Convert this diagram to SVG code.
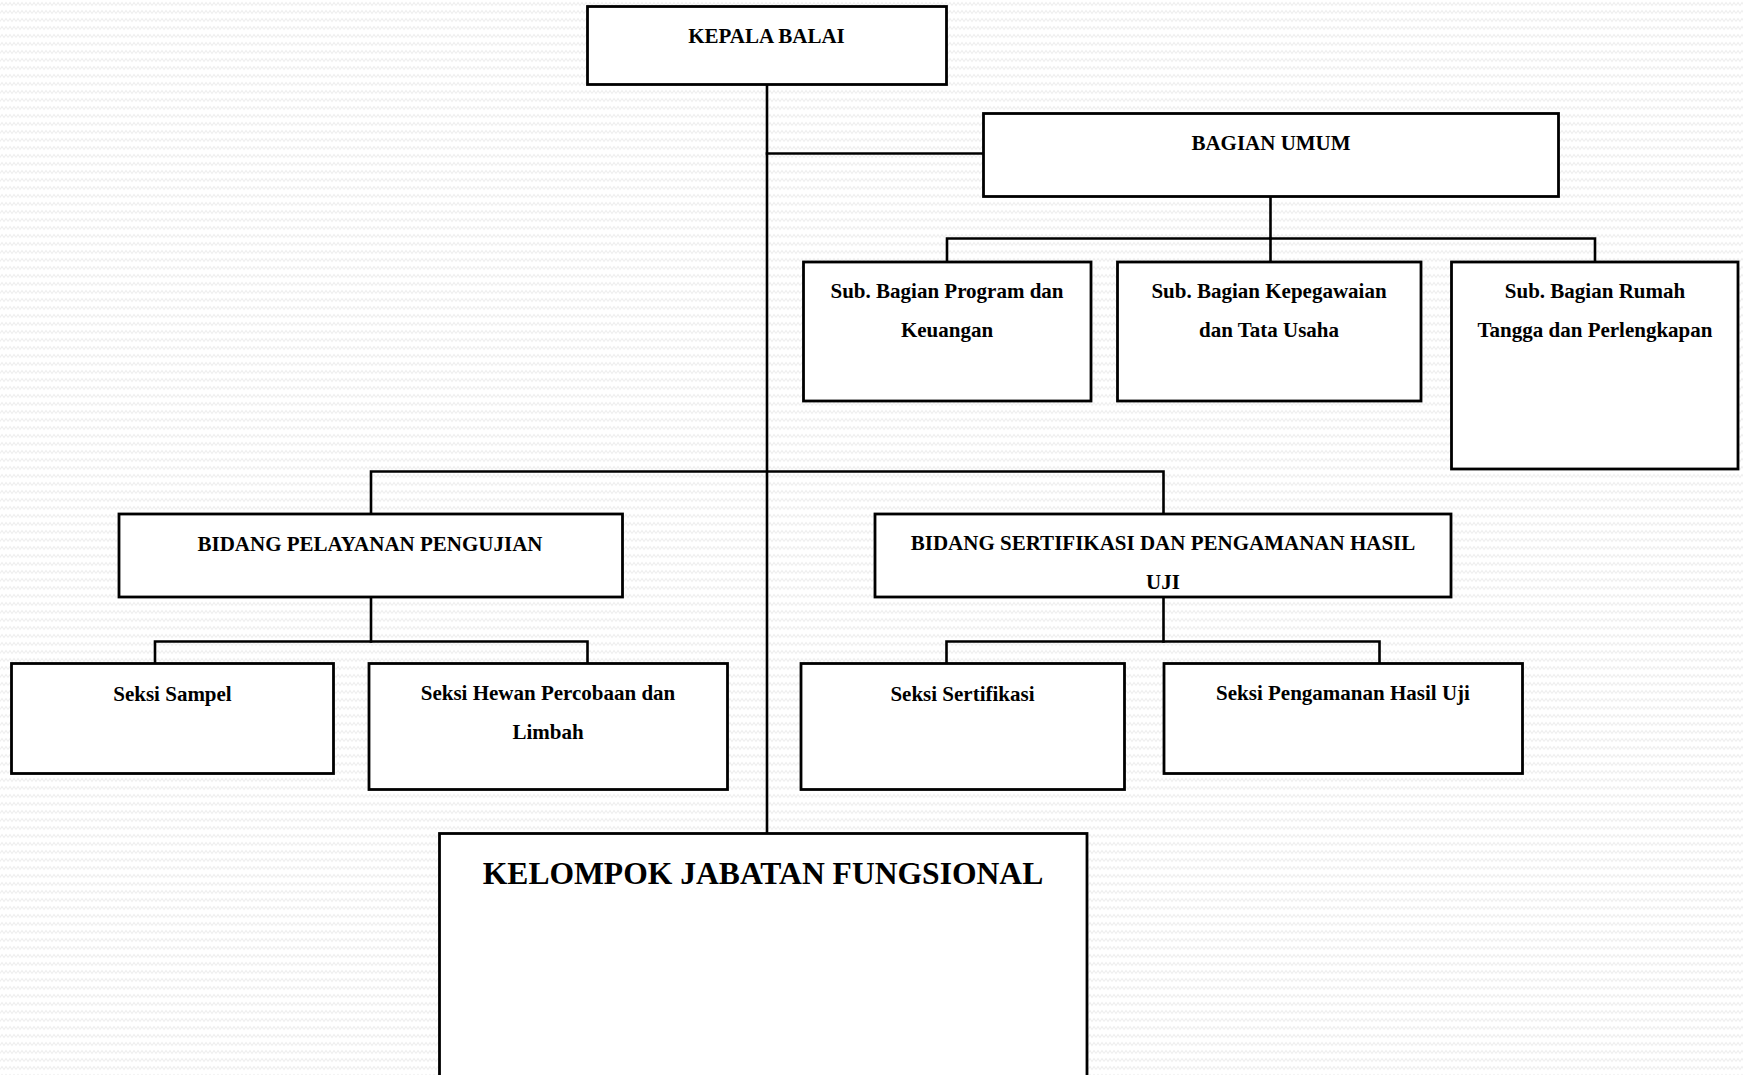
<svg xmlns="http://www.w3.org/2000/svg" width="1743" height="1075" viewBox="0 0 1743 1075">
  <defs>
    <pattern id="zig" width="8" height="8" patternUnits="userSpaceOnUse">
      <polyline points="0,5.5 2,2.5 4,5.5 6,2.5 8,5.5" fill="none" stroke="#efefef" stroke-width="1.2"/>
    </pattern>
  </defs>
  <style>
    .box { fill: #ffffff; stroke: #000000; stroke-width: 2.8; }
    .conn { fill: none; stroke: #000000; stroke-width: 2.6; stroke-linecap: square; }
    .t { font-family: "Liberation Serif", "Times New Roman", serif; font-weight: bold; font-size: 21px; fill: #000000; text-anchor: middle; }
    .big { font-size: 31.6px; }
  </style>
  <rect x="0" y="0" width="1743" height="1075" fill="#ffffff"/>
  <rect x="0" y="0" width="1743" height="1075" fill="url(#zig)"/>

  <g id="connectors">
    <line class="conn" x1="767" y1="85" x2="767" y2="833"/>
    <line class="conn" x1="767" y1="153.5" x2="983" y2="153.5"/>
    <line class="conn" x1="1270.5" y1="197" x2="1270.5" y2="238.5"/>
    <polyline class="conn" points="947,262 947,238.5 1595,238.5 1595,262"/>
    <line class="conn" x1="1270.5" y1="238.5" x2="1270.5" y2="262"/>
    <polyline class="conn" points="371,514 371,471.5 1163.5,471.5 1163.5,514"/>
    <line class="conn" x1="371" y1="597" x2="371" y2="641.5"/>
    <polyline class="conn" points="155,663 155,641.5 587.5,641.5 587.5,663"/>
    <line class="conn" x1="1163.5" y1="597" x2="1163.5" y2="641.5"/>
    <polyline class="conn" points="946.5,663 946.5,641.5 1379.5,641.5 1379.5,663"/>
  </g>

  <g id="kepala-balai">
    <rect class="box" x="587.5" y="6.5" width="359" height="78"/>
    <text class="t" x="766.5" y="43">KEPALA BALAI</text>
  </g>

  <g id="bagian-umum">
    <rect class="box" x="983.5" y="113.5" width="575" height="83"/>
    <text class="t" x="1271" y="150">BAGIAN UMUM</text>
  </g>

  <g id="sub-program">
    <rect class="box" x="803.5" y="262" width="287.5" height="139"/>
    <text class="t" x="947" y="298">Sub. Bagian Program dan</text>
    <text class="t" x="947" y="337">Keuangan</text>
  </g>

  <g id="sub-kepegawaian">
    <rect class="box" x="1117.5" y="262" width="303.5" height="139"/>
    <text class="t" x="1269" y="298">Sub. Bagian Kepegawaian</text>
    <text class="t" x="1269" y="337">dan Tata Usaha</text>
  </g>

  <g id="sub-rumah-tangga">
    <rect class="box" x="1451.5" y="262" width="286.5" height="207"/>
    <text class="t" x="1595" y="298">Sub. Bagian Rumah</text>
    <text class="t" x="1595" y="337">Tangga dan Perlengkapan</text>
  </g>

  <g id="bidang-pelayanan">
    <rect class="box" x="119" y="514" width="503.5" height="83"/>
    <text class="t" x="370" y="551">BIDANG PELAYANAN PENGUJIAN</text>
  </g>

  <g id="bidang-sertifikasi">
    <rect class="box" x="875" y="514" width="576" height="83"/>
    <text class="t" x="1163" y="550">BIDANG SERTIFIKASI DAN PENGAMANAN HASIL</text>
    <text class="t" x="1163" y="589">UJI</text>
  </g>

  <g id="seksi-sampel">
    <rect class="box" x="11.5" y="663.5" width="322" height="110"/>
    <text class="t" x="172.5" y="700.5">Seksi Sampel</text>
  </g>

  <g id="seksi-hewan">
    <rect class="box" x="369" y="663.5" width="358.5" height="126"/>
    <text class="t" x="548" y="700">Seksi Hewan Percobaan dan</text>
    <text class="t" x="548" y="739">Limbah</text>
  </g>

  <g id="seksi-sertifikasi">
    <rect class="box" x="801" y="663.5" width="323.5" height="126"/>
    <text class="t" x="962.5" y="700.5">Seksi Sertifikasi</text>
  </g>

  <g id="seksi-pengamanan">
    <rect class="box" x="1164" y="663.5" width="358.5" height="110"/>
    <text class="t" x="1343" y="700">Seksi Pengamanan Hasil Uji</text>
  </g>

  <g id="kelompok-jabatan-fungsional">
    <rect class="box" x="439.5" y="833.5" width="647.5" height="260"/>
    <text class="t big" x="763" y="884">KELOMPOK JABATAN FUNGSIONAL</text>
  </g>
</svg>
